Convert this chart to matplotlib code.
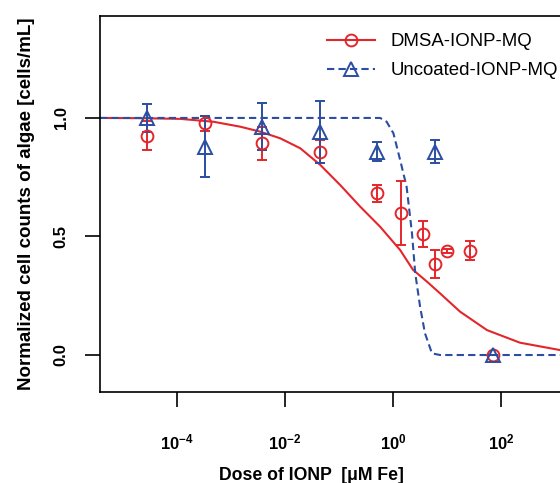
import matplotlib
matplotlib.use("Agg")
import matplotlib.pyplot as plt
from matplotlib.lines import Line2D
import numpy as np

plt.rcParams['font.family'] = ['Liberation Sans', 'DejaVu Sans']
plt.rcParams['mathtext.fontset'] = 'custom'
plt.rcParams['mathtext.rm'] = 'Liberation Sans'
plt.rcParams['mathtext.bf'] = 'Liberation Sans:bold'

red = '#E3262B'
blue = '#2B4EA2'

dmsa_dose = [2.8e-5, 3.3e-4, 3.8e-3, 4.4e-2, 0.51, 1.4, 3.6, 6.1, 10, 27, 72]
dmsa_mean = [0.925, 0.977, 0.893, 0.858, 0.682, 0.598, 0.511, 0.384, 0.439, 0.44, 0.0]
dmsa_sd = [0.06, 0.03, 0.07, 0.05, 0.035, 0.135, 0.055, 0.06, 0.01, 0.04, 0.0]

unc_dose = [2.8e-5, 3.3e-4, 3.8e-3, 4.4e-2, 0.51, 6.1, 72]
unc_mean = [1.0, 0.879, 0.963, 0.942, 0.858, 0.858, 0.0]
unc_sd = [0.06, 0.13, 0.10, 0.13, 0.04, 0.05, 0.0]

# fitted curves (log10 dose, response)
dmsa_fit_logx = [-5.43, -4.69, -3.94, -3.33, -2.83, -2.46, -2.09, -1.72, -1.35, -0.98,
                 -0.61, -0.24, 0.13, 0.37, 0.63, 0.87, 1.24, 1.74, 2.35, 3.09, 3.9]
dmsa_fit_y = [1.0, 0.999, 0.996, 0.984, 0.963, 0.942, 0.914, 0.872, 0.802, 0.717,
              0.626, 0.541, 0.443, 0.359, 0.309, 0.260, 0.183, 0.105, 0.052, 0.021, 0.008]

unc_fit_logx = [-5.43, -0.61, -0.24, -0.12, 0.006, 0.13, 0.25, 0.35, 0.41, 0.50,
                0.59, 0.72, 0.87, 3.9]
unc_fit_y = [1.0, 1.0, 1.0, 0.984, 0.935, 0.823, 0.710, 0.513, 0.345, 0.204,
             0.092, 0.007, 0.0, 0.0]

xticks = [1e-4, 1e-2, 1e0, 1e2]
xtick_labels = [r'$\mathbf{10^{-4}}$', r'$\mathbf{10^{-2}}$', r'$\mathbf{10^{0}}$', r'$\mathbf{10^{2}}$']
yticks = [0.0, 0.5, 1.0]

fig = plt.figure(figsize=(5.6, 4.83), dpi=100)
ax = fig.add_axes([100/560, 1 - 392/483, 500/560, 376/483])

ax.plot(10**np.array(dmsa_fit_logx), dmsa_fit_y, color=red, lw=1.5)
ax.plot(10**np.array(unc_fit_logx), unc_fit_y, color=blue, lw=1.5, ls=(0, (3.5, 2)))

ax.errorbar(dmsa_dose, dmsa_mean, yerr=dmsa_sd, fmt='o', color=red, mfc='none',
            ms=8.5, mew=1.4, elinewidth=1.4, capsize=3.5, capthick=1.4)
ax.errorbar(unc_dose, unc_mean, yerr=unc_sd, fmt='^', color=blue, mfc='none',
            ms=10, mew=1.4, elinewidth=1.4, capsize=3.5, capthick=1.4)

ax.set_xscale('log')
ax.set_xlim(10**-5.43, 10**3.833)
ax.set_ylim(-0.156, 1.43)
ax.set_xticks(xticks)
ax.set_xticklabels(xtick_labels)
ax.minorticks_off()
ax.set_yticks(yticks)
ax.set_yticklabels(['0.0', '0.5', '1.0'], rotation=90, va='center', fontweight='bold')

ax.tick_params(axis='x', length=11, width=1.2, pad=18, labelsize=12)
ax.tick_params(axis='y', length=10.5, width=1.2, pad=12, labelsize=12)
for s in ax.spines.values():
    s.set_linewidth(1.2)

ax.set_xlabel('Dose of IONP  [\u03bcM Fe]', fontsize=12.7, fontweight='bold')
ax.xaxis.set_label_coords(0.422, -0.199)
ax.set_ylabel('Normalized cell counts of algae [cells/mL]', fontsize=13.5, fontweight='bold')
ax.yaxis.set_label_coords(-0.13, 0.5)

handles = [
    Line2D([], [], color=red, marker='o', mfc='none', ms=8.5, mew=1.4, lw=1.5),
    Line2D([], [], color=blue, marker='^', mfc='none', ms=10, mew=1.4, lw=1.5, ls=(0, (3.5, 2))),
]
ax.legend(handles, ['DMSA-IONP-MQ', 'Uncoated-IONP-MQ'], frameon=False, fontsize=13.4,
          handlelength=2.6, handletextpad=0.8, labelspacing=0.65,
          loc='upper left', bbox_to_anchor=(327/560, 1 - 33/483),
          bbox_transform=fig.transFigure, borderaxespad=0, borderpad=0)

fig.savefig('out.png', dpi=100)
